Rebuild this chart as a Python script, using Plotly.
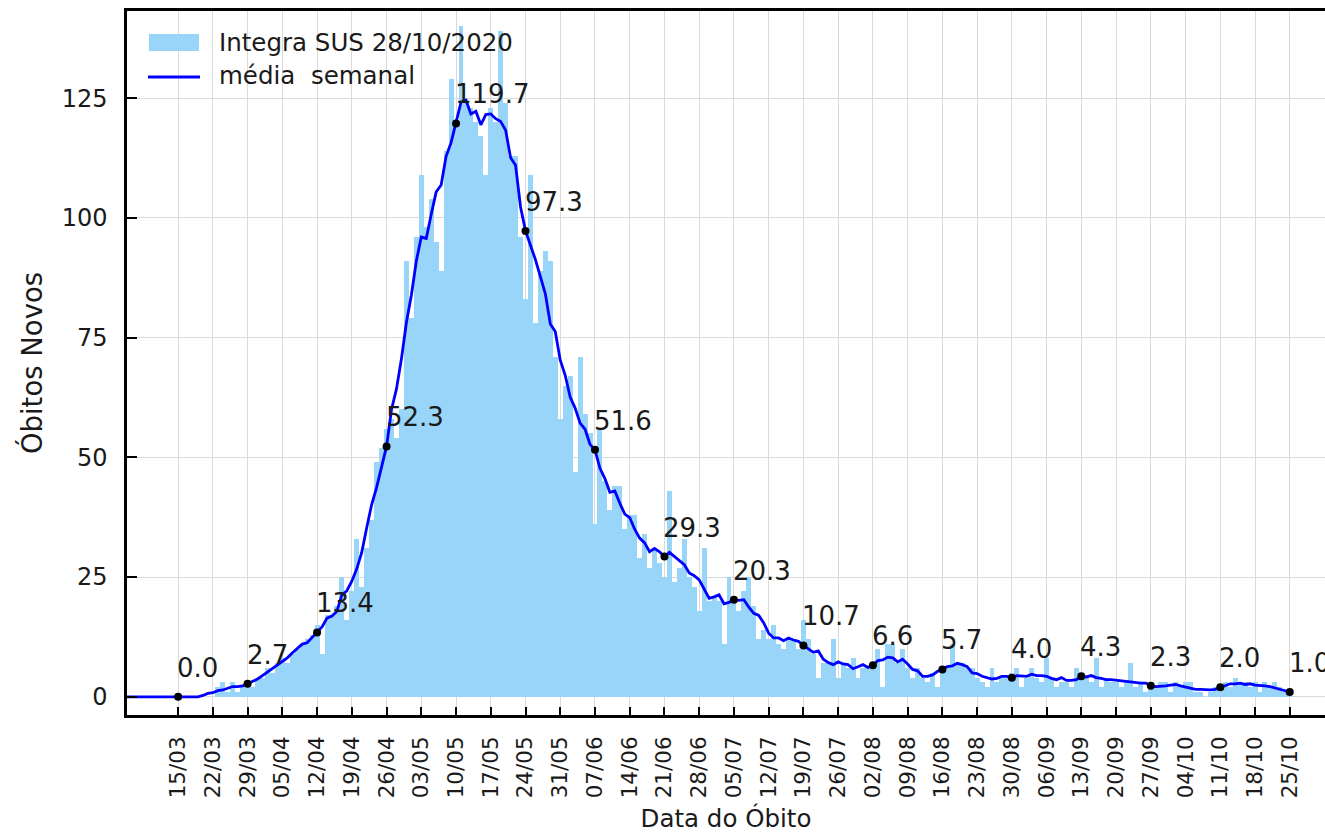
import pandas as pd
import plotly.graph_objects as go

# ---------------- data ----------------
start_date = "2020-03-01"

zeros_inicio = [0] * 22                      # 01/03 .. 22/03
obitos_mar_abr = [2, 3, 1, 3, 1, 2, 3,       # 23/03 ..
                  2, 4, 4, 6, 5, 7, 8,
                  7, 9, 10, 11, 12, 13, 15,
                  9, 17, 17, 19, 25, 16, 22,
                  33, 23, 31, 37, 49, 52, 56]
obitos_mai_jun = [58, 54, 60, 91, 79, 96, 109,
                  98, 104, 95, 89, 114, 129, 119,
                  140, 124, 123, 120, 117, 109, 123,
                  120, 139, 124, 113, 113, 96, 83,
                  109, 78, 89, 93, 91, 71, 58,
                  65, 67, 47, 71, 59, 55, 36,
                  56, 45, 39, 44, 44, 35, 38,
                  38, 29, 34, 27, 31, 28, 25]
obitos_jun_ago = [43, 24, 27, 33, 25, 23, 18,
                  31, 20, 21, 20, 11, 25, 21,
                  18, 22, 25, 19, 12, 14, 12,
                  15, 11, 10, 12, 12, 10, 16,
                  12, 9, 4, 7, 7, 12, 4,
                  7, 6, 8, 4, 6, 6, 7,
                  10, 2, 11, 11, 7, 10, 6,
                  4, 6, 4, 3, 5, 2, 6]
obitos_ago_out = [6, 11, 7, 7, 6, 6, 4,
                  3, 2, 6, 3, 4, 4, 5,
                  6, 2, 4, 6, 4, 3, 8,
                  4, 2, 3, 3, 2, 6, 4,
                  4, 3, 8, 2, 4, 3, 3,
                  2, 3, 7, 2, 3, 1, 2,
                  2, 3, 3, 1, 3, 2, 3,
                  3, 1, 1, 0, 1, 2, 2,
                  3, 2, 4, 3, 3, 2, 3,
                  1, 3, 2, 3, 2, 1, 1,
                  0, 0, 0]

obitos = zeros_inicio + obitos_mar_abr + obitos_mai_jun + obitos_jun_ago + obitos_ago_out

serie_nome = "Integra SUS 28/10/2020"
media_nome = "média  semanal"
tick_inicio, tick_fim = "2020-03-15", "2020-10-25"

# ---------------- derived series ----------------
datas = pd.date_range(start_date, periods=len(obitos), freq="D")
serie = pd.Series(obitos, index=datas, dtype=float)
media = serie.rolling(7, center=True).mean()

tick_datas = pd.date_range(tick_inicio, tick_fim, freq="7D")
rotulo_datas = pd.date_range(tick_inicio, tick_fim, freq="14D")
rotulo_vals = media.loc[rotulo_datas]

# ---------------- figure ----------------
W, H = 1325, 833
L, R, T, B = 127, 0, 11, 118
pw, ph = W - L - R, H - T - B
FONT = "DejaVu Sans"
TXT = "#1a1a1a"

def px2paper(x, y):
    return (x - L) / pw, (H - B - y) / ph

fig = go.Figure()
fig.add_trace(go.Bar(x=datas, y=obitos, width=86400000,
                     marker=dict(color="#99D4F9", line=dict(width=0)),
                     showlegend=False))
fig.add_trace(go.Scatter(x=media.index, y=media.values, mode="lines",
                         line=dict(color="#0000FF", width=2.8), showlegend=False))
fig.add_trace(go.Scatter(x=rotulo_datas, y=rotulo_vals.values, mode="markers",
                         marker=dict(color="black", size=8), showlegend=False))

anns = []
for d, v in zip(rotulo_datas, rotulo_vals.values):
    anns.append(dict(x=d, y=v, xref="x", yref="y", text=f"{v:.1f}",
                     showarrow=False, xanchor="left", yanchor="middle",
                     xshift=-3, yshift=29, font=dict(family=FONT, size=26, color=TXT)))

# manual legend (matplotlib style)
x0, y0 = px2paper(149, 51)
x1, y1 = px2paper(199, 34)
shapes = [dict(type="rect", xref="paper", yref="paper", x0=x0, x1=x1, y0=y0, y1=y1,
               fillcolor="#99D4F9", line=dict(width=0))]
lx0, ly = px2paper(148, 77)
lx1, _ = px2paper(200, 77)
shapes.append(dict(type="line", xref="paper", yref="paper", x0=lx0, x1=lx1, y0=ly, y1=ly,
                   line=dict(color="#0000FF", width=2.8)))
tx, ty1 = px2paper(217, 43)
_, ty2 = px2paper(217, 76)
anns.append(dict(x=tx, y=ty1, xref="paper", yref="paper", text=serie_nome, showarrow=False,
                 xanchor="left", yanchor="middle", font=dict(family=FONT, size=24.5, color=TXT)))
anns.append(dict(x=tx, y=ty2, xref="paper", yref="paper", text=media_nome, showarrow=False,
                 xanchor="left", yanchor="middle", font=dict(family=FONT, size=24.5, color=TXT)))

x_left = pd.Timestamp(tick_inicio) - pd.Timedelta(days=10.3)
x_right = pd.Timestamp(tick_fim) + pd.Timedelta(days=7.1)

fig.update_layout(
    width=W, height=H, margin=dict(l=L, r=R, t=T, b=B, autoexpand=False),
    paper_bgcolor="white", plot_bgcolor="white",
    font=dict(family=FONT, size=22, color=TXT),
    bargap=0, showlegend=False,
    annotations=anns, shapes=shapes,
    xaxis=dict(range=[x_left, x_right], type="date",
               tickmode="array", tickvals=tick_datas,
               ticktext=[d.strftime("%d/%m") for d in tick_datas],
               tickangle=-90, ticks="inside", ticklen=8, tickwidth=1.5, tickcolor="black",
               showline=True, linewidth=2.5, linecolor="black", mirror=True,
               showgrid=True, gridcolor="#DADADA", gridwidth=1,
               ticklabelstandoff=10,
               tickfont=dict(family=FONT, size=21.5, color=TXT),
               title=dict(text="Data do Óbito", font=dict(family=FONT, size=24.5, color=TXT),
                          standoff=14)),
    yaxis=dict(range=[-3.8, 143.2], tickmode="array", tickvals=[0, 25, 50, 75, 100, 125],
               ticks="inside", ticklen=10, tickwidth=1.5, tickcolor="black",
               showline=True, linewidth=2.5, linecolor="black", mirror=False,
               showgrid=True, gridcolor="#DADADA", gridwidth=1, zeroline=False,
               ticklabelstandoff=12,
               tickfont=dict(family=FONT, size=24, color=TXT),
               title=dict(text="Óbitos Novos", font=dict(family=FONT, size=27.5, color=TXT),
                          standoff=12)),
)

fig.write_html("out.html", config={"displayModeBar": False},
               post_script="document.body.style.margin='0';")
